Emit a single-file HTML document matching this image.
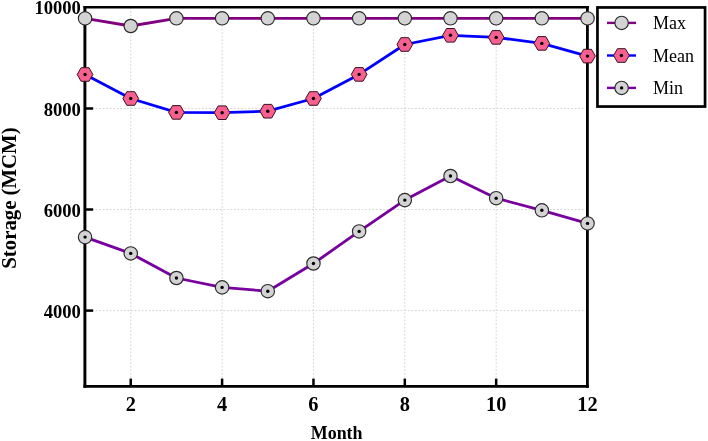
<!DOCTYPE html>
<html><head><meta charset="utf-8"><style>
html,body{margin:0;padding:0;background:#fff;}
body{width:708px;height:441px;overflow:hidden;}
svg{display:block;will-change:transform;}
text{font-family:"Liberation Serif", serif;}
</style></head><body>
<svg width="708" height="441" viewBox="0 0 708 441">
<rect x="0" y="0" width="708" height="441" fill="#fff"/>

<g stroke="#d6d6d6" stroke-width="1.0" stroke-dasharray="1.8 1.75" fill="none">
<line x1="84.8" y1="108.5" x2="587.4" y2="108.5"/>
<line x1="84.8" y1="209.5" x2="587.4" y2="209.5"/>
<line x1="84.8" y1="310.6" x2="587.4" y2="310.6"/>
<line x1="130.74" y1="7.3" x2="130.74" y2="386.45"/>
<line x1="222.10" y1="7.3" x2="222.10" y2="386.45"/>
<line x1="313.46" y1="7.3" x2="313.46" y2="386.45"/>
<line x1="404.81" y1="7.3" x2="404.81" y2="386.45"/>
<line x1="496.17" y1="7.3" x2="496.17" y2="386.45"/>
</g>
<g stroke="#000" stroke-width="2.5" fill="none">
<line x1="84.8" y1="108.5" x2="93.15" y2="108.5"/>
<line x1="84.8" y1="209.5" x2="93.15" y2="209.5"/>
<line x1="84.8" y1="310.6" x2="93.15" y2="310.6"/>
<line x1="130.74" y1="386.45" x2="130.74" y2="378.60"/>
<line x1="222.10" y1="386.45" x2="222.10" y2="378.60"/>
<line x1="313.46" y1="386.45" x2="313.46" y2="378.60"/>
<line x1="404.81" y1="386.45" x2="404.81" y2="378.60"/>
<line x1="496.17" y1="386.45" x2="496.17" y2="378.60"/>
</g>
<line x1="84.9" y1="6.00" x2="84.9" y2="387.85" stroke="#000" stroke-width="2.95"/>
<line x1="587.4" y1="6.00" x2="587.4" y2="387.85" stroke="#000" stroke-width="2.8"/>
<line x1="83.43" y1="7.3" x2="588.80" y2="7.3" stroke="#000" stroke-width="2.6"/>
<line x1="83.43" y1="386.45" x2="588.80" y2="386.45" stroke="#000" stroke-width="2.8"/>
<polyline points="85.06,18.40 130.74,26.00 176.42,18.30 222.10,18.30 267.78,18.30 313.46,18.30 359.13,18.30 404.81,18.30 450.49,18.30 496.17,18.30 541.85,18.30 587.53,18.40" fill="none" stroke="#800080" stroke-width="2.8" stroke-linejoin="round"/>
<polyline points="85.06,74.50 130.74,98.50 176.42,112.40 222.10,112.70 267.78,111.20 313.46,98.50 359.13,74.40 404.81,44.50 450.49,35.30 496.17,37.40 541.85,43.40 587.53,56.10" fill="none" stroke="#0000ff" stroke-width="2.8" stroke-linejoin="round"/>
<polyline points="85.06,237.10 130.74,253.40 176.42,278.00 222.10,287.40 267.78,291.20 313.46,263.50 359.13,231.40 404.81,200.10 450.49,176.00 496.17,198.20 541.85,210.30 587.53,223.40" fill="none" stroke="#78009f" stroke-width="2.8" stroke-linejoin="round"/>
<circle cx="85.06" cy="18.4" r="6.7" fill="#d3d3d3" stroke="#2a2a2a" stroke-width="1.15"/>
<circle cx="130.74" cy="26.0" r="6.7" fill="#d3d3d3" stroke="#2a2a2a" stroke-width="1.15"/>
<circle cx="176.42" cy="18.3" r="6.7" fill="#d3d3d3" stroke="#2a2a2a" stroke-width="1.15"/>
<circle cx="222.10" cy="18.3" r="6.7" fill="#d3d3d3" stroke="#2a2a2a" stroke-width="1.15"/>
<circle cx="267.78" cy="18.3" r="6.7" fill="#d3d3d3" stroke="#2a2a2a" stroke-width="1.15"/>
<circle cx="313.46" cy="18.3" r="6.7" fill="#d3d3d3" stroke="#2a2a2a" stroke-width="1.15"/>
<circle cx="359.13" cy="18.3" r="6.7" fill="#d3d3d3" stroke="#2a2a2a" stroke-width="1.15"/>
<circle cx="404.81" cy="18.3" r="6.7" fill="#d3d3d3" stroke="#2a2a2a" stroke-width="1.15"/>
<circle cx="450.49" cy="18.3" r="6.7" fill="#d3d3d3" stroke="#2a2a2a" stroke-width="1.15"/>
<circle cx="496.17" cy="18.3" r="6.7" fill="#d3d3d3" stroke="#2a2a2a" stroke-width="1.15"/>
<circle cx="541.85" cy="18.3" r="6.7" fill="#d3d3d3" stroke="#2a2a2a" stroke-width="1.15"/>
<circle cx="587.53" cy="18.4" r="6.7" fill="#d3d3d3" stroke="#2a2a2a" stroke-width="1.15"/>
<path d="M92.91,74.50 L88.98,81.30 L81.14,81.30 L77.21,74.50 L81.14,67.70 L88.98,67.70 Z" fill="#f7608f" stroke="#3a1020" stroke-width="1.0"/>
<circle cx="85.06" cy="74.5" r="1.7" fill="#000"/>
<path d="M138.59,98.50 L134.66,105.30 L126.81,105.30 L122.89,98.50 L126.81,91.70 L134.66,91.70 Z" fill="#f7608f" stroke="#3a1020" stroke-width="1.0"/>
<circle cx="130.74" cy="98.5" r="1.7" fill="#000"/>
<path d="M184.27,112.40 L180.34,119.20 L172.49,119.20 L168.57,112.40 L172.49,105.60 L180.34,105.60 Z" fill="#f7608f" stroke="#3a1020" stroke-width="1.0"/>
<circle cx="176.42" cy="112.4" r="1.7" fill="#000"/>
<path d="M229.95,112.70 L226.02,119.50 L218.17,119.50 L214.25,112.70 L218.17,105.90 L226.02,105.90 Z" fill="#f7608f" stroke="#3a1020" stroke-width="1.0"/>
<circle cx="222.10" cy="112.7" r="1.7" fill="#000"/>
<path d="M275.63,111.20 L271.70,118.00 L263.85,118.00 L259.93,111.20 L263.85,104.40 L271.70,104.40 Z" fill="#f7608f" stroke="#3a1020" stroke-width="1.0"/>
<circle cx="267.78" cy="111.2" r="1.7" fill="#000"/>
<path d="M321.31,98.50 L317.38,105.30 L309.53,105.30 L305.61,98.50 L309.53,91.70 L317.38,91.70 Z" fill="#f7608f" stroke="#3a1020" stroke-width="1.0"/>
<circle cx="313.46" cy="98.5" r="1.7" fill="#000"/>
<path d="M366.98,74.40 L363.06,81.20 L355.21,81.20 L351.28,74.40 L355.21,67.60 L363.06,67.60 Z" fill="#f7608f" stroke="#3a1020" stroke-width="1.0"/>
<circle cx="359.13" cy="74.4" r="1.7" fill="#000"/>
<path d="M412.66,44.50 L408.74,51.30 L400.89,51.30 L396.96,44.50 L400.89,37.70 L408.74,37.70 Z" fill="#f7608f" stroke="#3a1020" stroke-width="1.0"/>
<circle cx="404.81" cy="44.5" r="1.7" fill="#000"/>
<path d="M458.34,35.30 L454.42,42.10 L446.57,42.10 L442.64,35.30 L446.57,28.50 L454.42,28.50 Z" fill="#f7608f" stroke="#3a1020" stroke-width="1.0"/>
<circle cx="450.49" cy="35.3" r="1.7" fill="#000"/>
<path d="M504.02,37.40 L500.10,44.20 L492.25,44.20 L488.32,37.40 L492.25,30.60 L500.10,30.60 Z" fill="#f7608f" stroke="#3a1020" stroke-width="1.0"/>
<circle cx="496.17" cy="37.4" r="1.7" fill="#000"/>
<path d="M549.70,43.40 L545.77,50.20 L537.93,50.20 L534.00,43.40 L537.93,36.60 L545.77,36.60 Z" fill="#f7608f" stroke="#3a1020" stroke-width="1.0"/>
<circle cx="541.85" cy="43.4" r="1.7" fill="#000"/>
<path d="M595.38,56.10 L591.45,62.90 L583.60,62.90 L579.68,56.10 L583.60,49.30 L591.45,49.30 Z" fill="#f7608f" stroke="#3a1020" stroke-width="1.0"/>
<circle cx="587.53" cy="56.1" r="1.7" fill="#000"/>
<circle cx="85.06" cy="237.1" r="6.7" fill="#d3d3d3" stroke="#2a2a2a" stroke-width="1.15"/>
<circle cx="85.06" cy="237.1" r="1.7" fill="#000"/>
<circle cx="130.74" cy="253.4" r="6.7" fill="#d3d3d3" stroke="#2a2a2a" stroke-width="1.15"/>
<circle cx="130.74" cy="253.4" r="1.7" fill="#000"/>
<circle cx="176.42" cy="278.0" r="6.7" fill="#d3d3d3" stroke="#2a2a2a" stroke-width="1.15"/>
<circle cx="176.42" cy="278.0" r="1.7" fill="#000"/>
<circle cx="222.10" cy="287.4" r="6.7" fill="#d3d3d3" stroke="#2a2a2a" stroke-width="1.15"/>
<circle cx="222.10" cy="287.4" r="1.7" fill="#000"/>
<circle cx="267.78" cy="291.2" r="6.7" fill="#d3d3d3" stroke="#2a2a2a" stroke-width="1.15"/>
<circle cx="267.78" cy="291.2" r="1.7" fill="#000"/>
<circle cx="313.46" cy="263.5" r="6.7" fill="#d3d3d3" stroke="#2a2a2a" stroke-width="1.15"/>
<circle cx="313.46" cy="263.5" r="1.7" fill="#000"/>
<circle cx="359.13" cy="231.4" r="6.7" fill="#d3d3d3" stroke="#2a2a2a" stroke-width="1.15"/>
<circle cx="359.13" cy="231.4" r="1.7" fill="#000"/>
<circle cx="404.81" cy="200.1" r="6.7" fill="#d3d3d3" stroke="#2a2a2a" stroke-width="1.15"/>
<circle cx="404.81" cy="200.1" r="1.7" fill="#000"/>
<circle cx="450.49" cy="176.0" r="6.7" fill="#d3d3d3" stroke="#2a2a2a" stroke-width="1.15"/>
<circle cx="450.49" cy="176.0" r="1.7" fill="#000"/>
<circle cx="496.17" cy="198.2" r="6.7" fill="#d3d3d3" stroke="#2a2a2a" stroke-width="1.15"/>
<circle cx="496.17" cy="198.2" r="1.7" fill="#000"/>
<circle cx="541.85" cy="210.3" r="6.7" fill="#d3d3d3" stroke="#2a2a2a" stroke-width="1.15"/>
<circle cx="541.85" cy="210.3" r="1.7" fill="#000"/>
<circle cx="587.53" cy="223.4" r="6.7" fill="#d3d3d3" stroke="#2a2a2a" stroke-width="1.15"/>
<circle cx="587.53" cy="223.4" r="1.7" fill="#000"/>
<text transform="translate(80.9,14.10) scale(0.98,1)" x="0" y="0" text-anchor="end" font-size="19" font-weight="bold">10000</text>
<text transform="translate(80.9,115.90) scale(0.98,1)" x="0" y="0" text-anchor="end" font-size="19" font-weight="bold">8000</text>
<text transform="translate(80.9,216.90) scale(0.98,1)" x="0" y="0" text-anchor="end" font-size="19" font-weight="bold">6000</text>
<text transform="translate(80.9,318.00) scale(0.98,1)" x="0" y="0" text-anchor="end" font-size="19" font-weight="bold">4000</text>
<text transform="translate(130.74,411) scale(1.02,1)" x="0" y="0" text-anchor="middle" font-size="20" font-weight="bold">2</text>
<text transform="translate(222.10,411) scale(1.02,1)" x="0" y="0" text-anchor="middle" font-size="20" font-weight="bold">4</text>
<text transform="translate(313.46,411) scale(1.02,1)" x="0" y="0" text-anchor="middle" font-size="20" font-weight="bold">6</text>
<text transform="translate(404.81,411) scale(1.02,1)" x="0" y="0" text-anchor="middle" font-size="20" font-weight="bold">8</text>
<text transform="translate(496.17,411) scale(1.02,1)" x="0" y="0" text-anchor="middle" font-size="20" font-weight="bold">10</text>
<text transform="translate(587.53,411) scale(1.02,1)" x="0" y="0" text-anchor="middle" font-size="20" font-weight="bold">12</text>
<text transform="translate(336.65,438.8) scale(0.945,1)" x="0" y="0" text-anchor="middle" font-size="19" font-weight="bold">Month</text>
<text transform="translate(16.0,198.05) rotate(-90) scale(0.99,1)" x="0" y="0" text-anchor="middle" font-size="21" font-weight="bold">Storage (MCM)</text>
<rect x="597.45" y="7.45" width="107.6" height="99.1" fill="#fff" stroke="#000" stroke-width="2.7"/>
<line x1="607" y1="22.9" x2="636" y2="22.9" stroke="#800080" stroke-width="2.4"/>
<circle cx="621.6" cy="22.9" r="6.7" fill="#d3d3d3" stroke="#2a2a2a" stroke-width="1.15"/>
<line x1="607" y1="55.5" x2="636" y2="55.5" stroke="#0000ff" stroke-width="2.4"/>
<path d="M629.25,55.50 L625.32,62.30 L617.48,62.30 L613.55,55.50 L617.48,48.70 L625.32,48.70 Z" fill="#f7608f" stroke="#3a1020" stroke-width="1.0"/>
<circle cx="621.4" cy="55.5" r="1.7" fill="#000"/>
<line x1="607" y1="87.9" x2="636" y2="87.9" stroke="#78009f" stroke-width="2.4"/>
<circle cx="621.6" cy="87.9" r="6.7" fill="#d3d3d3" stroke="#2a2a2a" stroke-width="1.15"/>
<circle cx="621.6" cy="87.9" r="1.7" fill="#000"/>
<text x="653" y="29.2" font-size="18">Max</text>
<text x="653" y="61.7" font-size="18">Mean</text>
<text x="653" y="94.1" font-size="18">Min</text>
</svg>
</body></html>
